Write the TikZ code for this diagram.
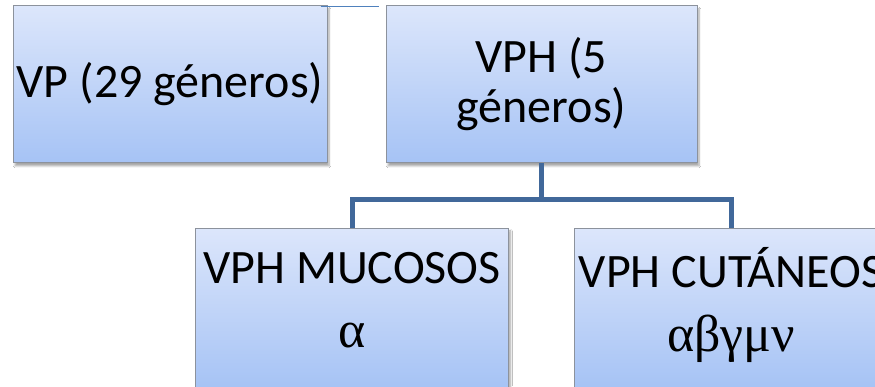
\documentclass[tikz,border=0pt]{standalone}
\usepackage{fontspec}
\setmainfont{Carlito}
\newfontfamily\grk[Scale=1.08]{Liberation Serif}
\usetikzlibrary{shadows.blur}
\definecolor{boxtop}{HTML}{DCE6FB}
\definecolor{boxbot}{HTML}{A6C3F5}
\definecolor{boxline}{HTML}{8C929C}
\definecolor{conn}{HTML}{41689A}
\definecolor{thinblue}{HTML}{4F81BD}
\tikzset{
  box/.style={rectangle, draw=boxline, line width=1pt, top color=boxtop, bottom color=boxbot,
    blur shadow={shadow xshift=2pt, shadow yshift=-3pt, shadow blur steps=6, shadow opacity=35},
    align=center, inner sep=0pt, font=\fontsize{48}{58}\selectfont},
  lowbox/.style={box, minimum width=313pt, minimum height=160pt, text depth=17pt,
    font=\fontsize{48}{64}\selectfont},
  link/.style={draw=conn, line width=5pt},
}
\begin{document}
\begin{tikzpicture}[x=1pt,y=1pt]
\path[use as bounding box, clip] (0,0) rectangle (875,386);
\fill[white] (0,0) rectangle (875,386);
\node[box, minimum width=314pt, minimum height=157pt] (vp) at (170,301.5) {VP (29 géneros)};
\node[box, minimum width=311pt, minimum height=157pt, font=\fontsize{48}{50}\selectfont] (vph) at (541.5,301.5) {VPH (5\\géneros)};
\node[lowbox] (muc) at (352,78) {VPH MUCOSOS\\{\grk α}};
\node[lowbox] (cut) at (731,78) {VPH CUTÁNEOS\\{\grk αβγμν}};
\coordinate (mid) at ([yshift=-36pt]vph.south);
\draw[link] (vph.south) -- (mid);
\draw[link, line join=miter] (muc.north) |- (mid) -| (cut.north);
\draw[draw=thinblue, line width=1.5pt] ([xshift=-7pt,yshift=-1pt]vp.north east) -- ([xshift=-7pt,yshift=-1pt]vph.north west);
\end{tikzpicture}
\end{document}
